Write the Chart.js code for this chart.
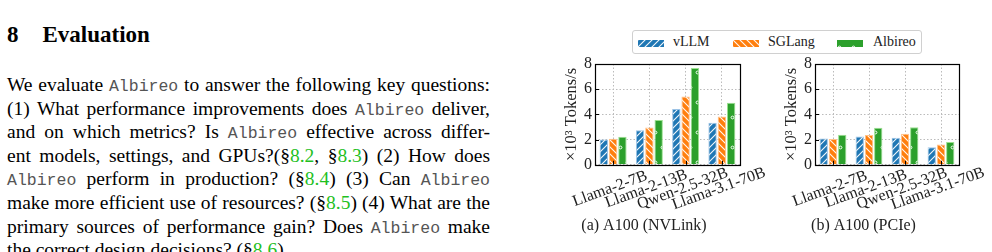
<!DOCTYPE html>
<html>
<head>
<meta charset="utf-8">
<script src="https://cdn.jsdelivr.net/npm/chart.js@4.4.1/dist/chart.umd.min.js"></script>
<style>
  html, body { margin: 0; padding: 0; background: #fff; }
  body { width: 992px; height: 252px; position: relative; overflow: hidden; font-family: "Liberation Serif", serif; color: #000; }
  #text { position: absolute; left: 7px; top: 22px; width: 483px; }
  h2 { font-size: 23px; font-weight: bold; margin: 0 0 25px 0; line-height: 26px; }
  h2 span { margin-right: 24px; }
  .ln { font-size: 19.5px; line-height: 23.6px; height: 23.6px; text-align: justify; text-align-last: justify; white-space: nowrap; }
  .ln.last { text-align-last: left; }
  .m { font-family: "Liberation Mono", monospace; font-size: 16.5px; color: #555; line-height: 0; }
  .g { color: #1fc01f; }
  #legend { position: absolute; left: 632px; top: 30px; width: 288px; height: 22px; border: 1px solid #d0d0d0; border-radius: 3px; font-size: 14px; color: #222; }
  .item { position: absolute; top: 3px; line-height: 16px; }
  .item canvas { position: absolute; top: 6px; }
  .item span { position: absolute; white-space: nowrap; }
  .cv { position: absolute; }
</style>
</head>
<body>
<div id="text">
  <h2><span>8</span>Evaluation</h2>
  <div class="ln">We evaluate <span class="m">Albireo</span> to answer the following key questions:</div>
  <div class="ln">(1) What performance improvements does <span class="m">Albireo</span> deliver,</div>
  <div class="ln">and on which metrics? Is <span class="m">Albireo</span> effective across differ-</div>
  <div class="ln">ent models, settings, and GPUs?(§<span class="g">8.2</span>, §<span class="g">8.3</span>) (2) How does</div>
  <div class="ln"><span class="m">Albireo</span> perform in production? (§<span class="g">8.4</span>) (3) Can <span class="m">Albireo</span></div>
  <div class="ln">make more efficient use of resources? (§<span class="g">8.5</span>) (4) What are the</div>
  <div class="ln">primary sources of performance gain? Does <span class="m">Albireo</span> make</div>
  <div class="ln last">the correct design decisions? (§<span class="g">8.6</span>).</div>
</div>

<div id="legend"></div>

<div class="cv" style="left:548px; top:50px; width:232px; height:202px;"><canvas id="chartA"></canvas></div>
<div class="cv" style="left:768px; top:50px; width:224px; height:202px;"><canvas id="chartB"></canvas></div>

<script>
// models on the x axis
var models = ['Llama-2-7B', 'Llama-2-13B', 'Qwen-2.5-32B', 'Llama-3.1-70B'];
var systems = ['vLLM', 'SGLang', 'Albireo'];

// throughput, x10^3 tokens/s
// (a) A100 (NVLink)
var nvlinkVllm    = [2.0, 2.75, 4.42, 3.33];
var nvlinkSglang  = [2.07, 2.97, 5.43, 3.84];
var nvlinkAlbireo = [2.22, 3.55, 7.68, 4.93];
// (b) A100 (PCIe)
var pcieVllm    = [2.09, 2.25, 2.15, 1.40];
var pcieSglang  = [2.04, 2.36, 2.46, 1.62];
var pcieAlbireo = [2.38, 2.94, 2.99, 1.80];

var yTicks = [0, 2, 4, 6, 8];

var colors = ['#1f77b4', '#ff7f0e', '#2ca02c'];
var edges = ['#9cc3e6', '#ffc38a', '#9be08f'];
var hatches = ['/', '\\', 'o'];

var serif = '"Liberation Serif", serif';

function makePattern(color, hatch) {
    var c = document.createElement('canvas');
    var w = 7, h = 7;
    if (hatch === 'o') { w = 14; h = 30; }
    c.width = w; c.height = h;
    var g = c.getContext('2d');
    g.fillStyle = color;
    g.fillRect(0, 0, w, h);
    g.strokeStyle = 'rgba(255,255,255,0.95)';
    g.lineWidth = 1.1;
    if (hatch === '/') {
        g.beginPath();
        g.moveTo(-1, h + 1); g.lineTo(w + 1, -1);
        g.moveTo(-1, 1); g.lineTo(1, -1);
        g.moveTo(w - 1, h + 1); g.lineTo(w + 1, h - 1);
        g.stroke();
    } else if (hatch === '\\') {
        g.beginPath();
        g.moveTo(-1, -1); g.lineTo(w + 1, h + 1);
        g.moveTo(w - 1, -1); g.lineTo(w + 1, 1);
        g.moveTo(-1, h - 1); g.lineTo(1, h + 1);
        g.stroke();
    } else {
        g.lineWidth = 1;
        g.beginPath(); g.arc(2.5, 7.5, 1.4, 0, Math.PI * 2); g.stroke();
        g.beginPath(); g.arc(9.5, 22.5, 1.4, 0, Math.PI * 2); g.stroke();
    }
    return g.createPattern(c, 'repeat');
}

var patterns = colors.map(function (col, i) { return makePattern(col, hatches[i]); });

// closed frame + inward ticks like the matplotlib style
var framePlugin = {
    id: 'frame',
    afterDraw: function (chart) {
        var ctx = chart.ctx, a = chart.chartArea;
        var x = chart.scales.x, y = chart.scales.y;
        ctx.save();
        ctx.strokeStyle = '#000';
        ctx.lineWidth = 1;
        ctx.beginPath();
        x.ticks.forEach(function (t, i) {
            var px = Math.round(x.getPixelForTick(i)) + 0.5;
            ctx.moveTo(px, a.bottom); ctx.lineTo(px, a.bottom - 4);
        });
        y.ticks.forEach(function (t, i) {
            var py = Math.round(y.getPixelForTick(i)) + 0.5;
            ctx.moveTo(a.left, py); ctx.lineTo(a.left + 4, py);
        });
        ctx.stroke();
        ctx.lineWidth = 1.2;
        ctx.strokeRect(Math.round(a.left) + 0.5, Math.round(a.top) + 0.5,
                       Math.round(a.right - a.left), Math.round(a.bottom - a.top));
        ctx.restore();
    }
};

function makeChart(id, caption, vllm, sglang, albireo, rightPad) {
    var series = [vllm, sglang, albireo];
    return new Chart(document.getElementById(id), {
        type: 'bar',
        data: {
            labels: models,
            datasets: series.map(function (d, i) {
                return {
                    label: systems[i],
                    data: d,
                    backgroundColor: patterns[i],
                    borderColor: edges[i],
                    borderWidth: 1,
                    barPercentage: 0.9,
                    categoryPercentage: 0.77
                };
            })
        },
        options: {
            responsive: true,
            maintainAspectRatio: false,
            animation: false,
            devicePixelRatio: 1,
            layout: { padding: { top: 14, right: rightPad, left: 0, bottom: 0 } },
            plugins: {
                legend: { display: false },
                tooltip: { enabled: false },
                title: {
                    display: true,
                    position: 'bottom',
                    text: caption,
                    color: '#222',
                    font: { family: serif, size: 16, weight: 'normal' },
                    padding: { top: 6, bottom: 17 }
                }
            },
            scales: {
                x: {
                    offset: true,
                    grid: { offset: false, color: '#bbbbbb', lineWidth: 1, drawTicks: false },
                    border: { display: false, dash: [1.5, 2] },
                    ticks: {
                        color: '#222',
                        font: { family: serif, size: 16 },
                        minRotation: 20, maxRotation: 20,
                        autoSkip: false,
                        labelOffset: -3,
                        padding: 15
                    },
                    afterFit: function (s) {
                        s.height = 45;
                        s.paddingLeft = 0;
                        s.paddingRight = 0;
                        // rotated labels centred on the tick (matplotlib ha='center')
                        s._getXAxisLabelAlignment = function () { return 'center'; };
                    }
                },
                y: {
                    min: 0, max: 8,
                    afterBuildTicks: function (s) { s.ticks = yTicks.map(function (v) { return { value: v }; }); },
                    grid: { color: '#bbbbbb', lineWidth: 1, drawTicks: false },
                    border: { display: false, dash: [1.5, 2] },
                    ticks: { color: '#222', font: { family: serif, size: 16 }, padding: 3 },
                    title: {
                        display: true,
                        text: '×10³ Tokens/s',
                        color: '#222',
                        font: { family: serif, size: 16.5 },
                        padding: { top: 14, bottom: 0 }
                    },
                    afterFit: function (s) { s.width = 47; }
                }
            }
        },
        plugins: [framePlugin]
    });
}

makeChart('chartA', '(a) A100 (NVLink)', nvlinkVllm, nvlinkSglang, nvlinkAlbireo, 40);
makeChart('chartB', '(b) A100 (PCIe)', pcieVllm, pcieSglang, pcieAlbireo, 33);

// shared legend above both panels
var legend = document.getElementById('legend');
var itemPos = [[5, 40], [100, 135], [204, 240]];
systems.forEach(function (name, i) {
    var item = document.createElement('div');
    item.className = 'item';
    item.style.left = '0px';
    var sw = document.createElement('canvas');
    sw.width = 26; sw.height = 7;
    sw.style.left = itemPos[i][0] + 'px';
    var g = sw.getContext('2d');
    g.fillStyle = patterns[i];
    g.fillRect(0, 0, 26, 7);
    var lab = document.createElement('span');
    lab.textContent = name;
    lab.style.left = itemPos[i][1] + 'px';
    item.appendChild(sw);
    item.appendChild(lab);
    legend.appendChild(item);
});
</script>
</body>
</html>
